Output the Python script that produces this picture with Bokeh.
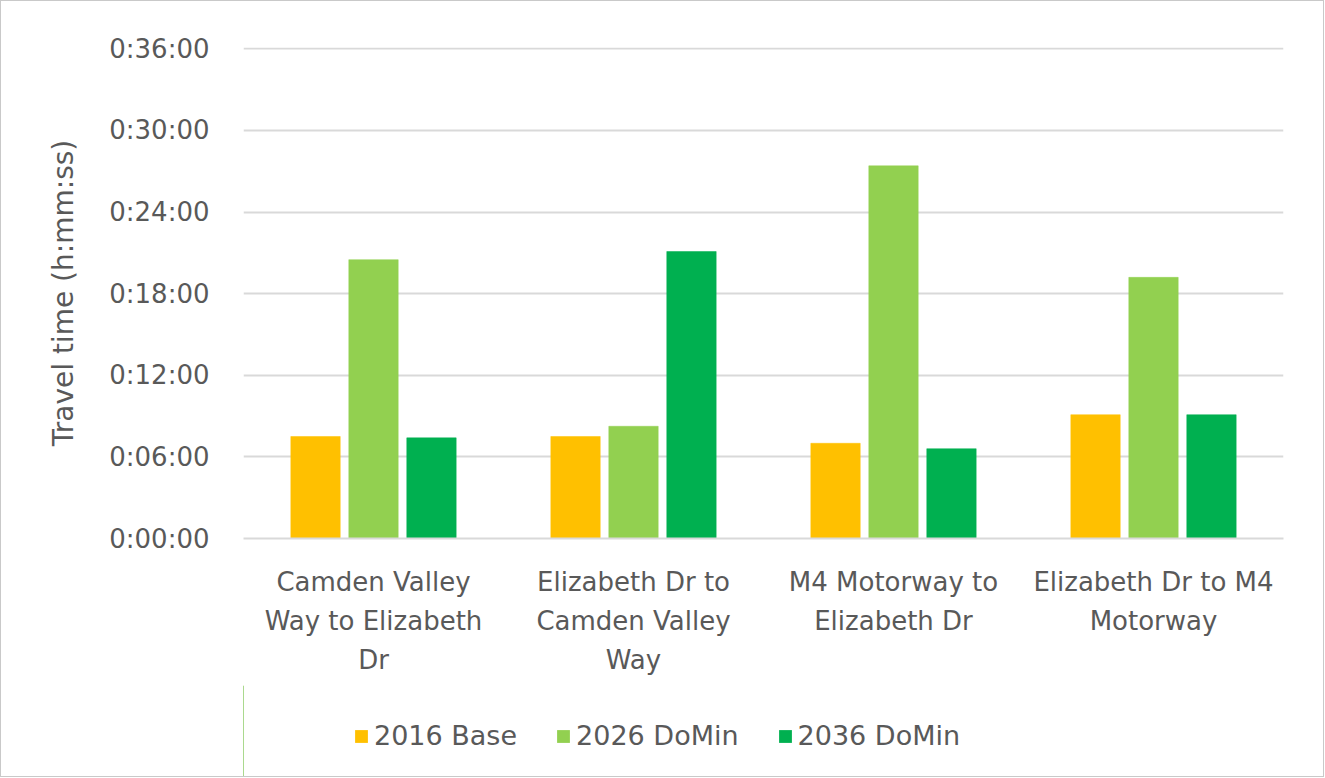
from bokeh.plotting import figure
from bokeh.models import FixedTicker, Legend, LegendItem, Range1d, ColumnDataSource
from bokeh.layouts import column
from bokeh.transform import dodge
from bokeh.embed import file_html
from bokeh.resources import INLINE

# ---- data (travel time in minutes) ----
routes = [
    "Camden Valley\nWay to Elizabeth\nDr",
    "Elizabeth Dr to\nCamden Valley\nWay",
    "M4 Motorway to\nElizabeth Dr",
    "Elizabeth Dr to M4\nMotorway",
]
base_2016 = [7.5, 7.5, 7.0, 9.1]
domin_2026 = [20.5, 8.25, 27.4, 19.2]
domin_2036 = [7.4, 21.1, 6.6, 9.1]
series_names = ["2016 Base", "2026 DoMin", "2036 DoMin"]
series_colors = ["#FFC000", "#92D050", "#00B050"]
y_ticks = [0, 6, 12, 18, 24, 30, 36]
y_tick_labels = ["0:00:00", "0:06:00", "0:12:00", "0:18:00", "0:24:00", "0:30:00", "0:36:00"]

FONT = "DejaVu Sans"
TXT = "#595959"
FS = "26px"
W = 1322

xc = [i + 0.5 for i in range(len(routes))]
src = ColumnDataSource(dict(x=xc, s0=base_2016, s1=domin_2026, s2=domin_2036))

p = figure(frame_width=1040, frame_height=491, output_backend="svg", toolbar_location=None,
           x_range=Range1d(0, len(routes)), y_range=Range1d(0, 36.1),
           min_border_left=242, min_border_right=W - 242 - 1040, min_border_top=46,
           min_border_bottom=147)

p.outline_line_color = None
p.border_fill_color = "white"
p.background_fill_color = "white"

bw = 0.19
offs = [-0.223, 0.0, 0.223]
for k, col in enumerate(["s0", "s1", "s2"]):
    p.vbar(x=dodge("x", offs[k], range=p.x_range), top=col, width=bw, bottom=0,
           source=src, fill_color=series_colors[k], line_color=series_colors[k], line_width=0.5)

# axes
p.xaxis.ticker = FixedTicker(ticks=xc)
p.xaxis.major_label_overrides = {x: lab for x, lab in zip(xc, routes)}
p.xaxis.major_tick_line_color = None
p.xaxis.minor_tick_line_color = None
p.xaxis.axis_line_color = "#d9d9d9"
p.xaxis.axis_line_width = 2
p.xaxis.major_label_text_font = FONT
p.xaxis.major_label_text_font_size = FS
p.xaxis.major_label_text_color = TXT
p.xaxis.major_label_standoff = 22
p.xaxis.major_label_text_line_height = 1.3

p.yaxis.ticker = FixedTicker(ticks=y_ticks)
p.yaxis.major_label_overrides = {t: l for t, l in zip(y_ticks, y_tick_labels)}
p.yaxis.major_tick_line_color = None
p.yaxis.minor_tick_line_color = None
p.yaxis.axis_line_color = None
p.yaxis.major_label_text_font = FONT
p.yaxis.major_label_text_font_size = FS
p.yaxis.major_label_text_color = TXT
p.yaxis.major_label_standoff = 28
p.yaxis.axis_label = "Travel time (h:mm:ss)"
p.yaxis.axis_label_text_font = FONT
p.yaxis.axis_label_text_font_size = "28px"
p.yaxis.axis_label_text_font_style = "normal"
p.yaxis.axis_label_text_color = TXT
p.yaxis.axis_label_standoff = 26

p.xgrid.grid_line_color = None
p.ygrid.grid_line_color = "#d9d9d9"
p.ygrid.grid_line_width = 2
p.ygrid.ticker = FixedTicker(ticks=y_ticks)

# ---- legend in its own strip below (placeholder glyphs lie outside its view) ----
lf = figure(width=W, height=91, output_backend="svg", toolbar_location=None,
            x_range=Range1d(0, 1), y_range=Range1d(0, 1),
            min_border=0, x_axis_type=None, y_axis_type=None)
lf.outline_line_color = None
lf.grid.grid_line_color = None
lrs = []
for k in range(3):
    lrs.append(lf.vbar(x=[-5], top=[1], width=0.1, fill_color=series_colors[k],
                       line_color=None))
legend = Legend(items=[LegendItem(label=n, renderers=[r]) for n, r in zip(series_names, lrs)],
                orientation="horizontal", location=(110, 25),
                label_text_font=FONT, label_text_font_size="27px", label_text_color=TXT,
                glyph_width=16, glyph_height=16, spacing=38, label_standoff=5,
                border_line_color=None, background_fill_alpha=0, margin=0, padding=5)
lf.add_layout(legend, "center")

layout = column(p, lf, spacing=0)
layout.styles = {"border": "1px solid #c9c9c9"}

open("out.html", "w").write(file_html(layout, INLINE))
